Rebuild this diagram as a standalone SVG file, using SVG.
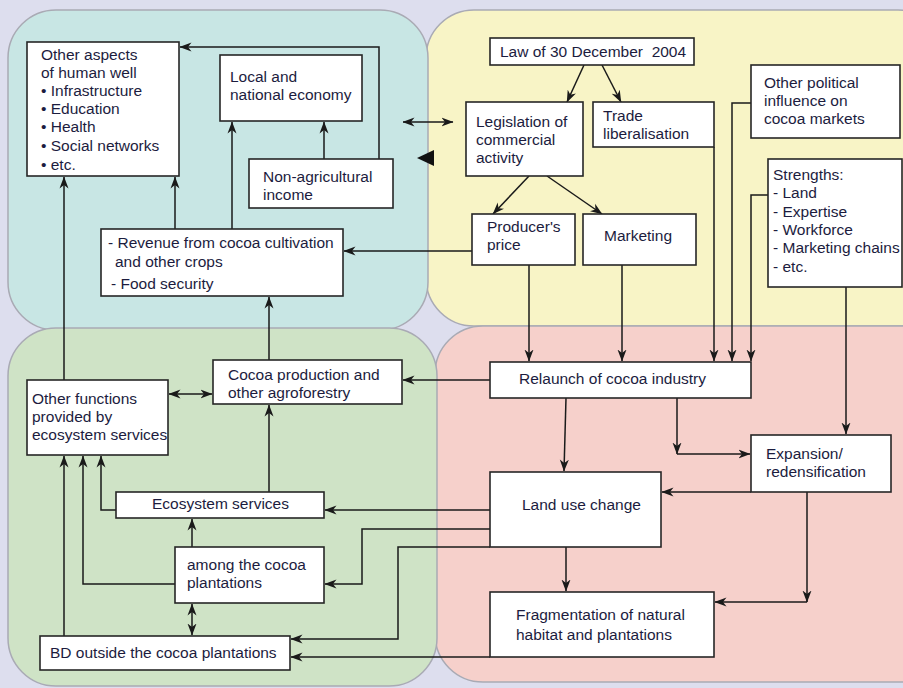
<svg xmlns="http://www.w3.org/2000/svg" width="903" height="688" viewBox="0 0 903 688">
  <defs>
    <marker id="arr" viewBox="0 0 12 10" refX="11.5" refY="5" markerWidth="12" markerHeight="10" markerUnits="userSpaceOnUse" orient="auto-start-reverse">
      <path d="M0,0.5 L12,5 L0,9.5 L3.5,5 Z" fill="#1a1a1a"/>
    </marker>
    <style>
      .panel { stroke: #a9aab4; stroke-width: 1.5; }
      .box { fill: #ffffff; stroke: #262626; stroke-width: 1.6; }
      .lbl { font-family: "Liberation Sans", Arial, sans-serif; font-size: 15.5px; fill: #1c1c3e; white-space: pre; }
      .con { fill: none; stroke: #1a1a1a; stroke-width: 1.5; }
      .arr { marker-end: url(#arr); }
      .both { marker-start: url(#arr); marker-end: url(#arr); }
    </style>
  </defs>

  <!-- page background -->
  <rect x="0" y="0" width="903" height="688" fill="#dddeee"/>

  <!-- the four quadrant panels -->
  <g id="panels">
    <rect class="panel" x="426" y="10" width="520" height="316" rx="48" fill="#f8f4c6"/>
    <rect class="panel" x="8" y="10" width="420" height="320" rx="48" fill="#c8e6e4"/>
    <rect class="panel" x="435" y="326" width="520" height="356" rx="48" fill="#f6d0cb"/>
    <rect class="panel" x="8" y="328" width="429" height="358" rx="48" fill="#cfe3c6"/>
  </g>

  <!-- connectors -->
  <g id="connectors">
    <path class="con arr" d="M379,159 V47 H180"/>
    <path class="con arr" d="M324,159 V122"/>
    <path class="con arr" d="M232,229 V122"/>
    <path class="con arr" d="M175,229 V177"/>
    <path class="con arr" d="M64,380 V177"/>
    <path class="con arr" d="M269,492 V405"/>
    <path class="con arr" d="M269,360 V297"/>
    <path class="con both" d="M403,122 H453"/>
    <polygon points="417,158 434,150 434,166" fill="#111111"/>
    <path class="con arr" d="M473,251 H344"/>
    <path class="con arr" d="M584,65 L567,102"/>
    <path class="con arr" d="M602,65 L621,102"/>
    <path class="con arr" d="M529,176 L493,214"/>
    <path class="con arr" d="M547,176 L602,214"/>
    <path class="con arr" d="M529,265 V361"/>
    <path class="con arr" d="M622,265 V361"/>
    <path class="con arr" d="M714,147 V361"/>
    <path class="con arr" d="M751,103 H732 V361"/>
    <path class="con arr" d="M768,195 H751 V361"/>
    <path class="con arr" d="M846,287 V434"/>
    <path class="con arr" d="M490,380 H403"/>
    <path class="con arr" d="M566,398 L564,471"/>
    <path class="con arr" d="M677,398 V454"/>
    <path class="con arr" d="M677,454 H750"/>
    <path class="con arr" d="M751,492 H662"/>
    <path class="con arr" d="M807,492 V602"/>
    <path class="con arr" d="M807,602 H715"/>
    <path class="con arr" d="M566,547 V591"/>
    <path class="con arr" d="M490,510 H325"/>
    <path class="con arr" d="M490,529 H362 V584 H325"/>
    <path class="con arr" d="M490,547 H398 V639 H291"/>
    <path class="con arr" d="M490,657 H291"/>
    <path class="con both" d="M169,394 H212"/>
    <path class="con arr" d="M116,510 H101 V456"/>
    <path class="con arr" d="M175,584 H83 V456"/>
    <path class="con arr" d="M64,636 V456"/>
    <path class="con arr" d="M192,547 V519"/>
    <path class="con both" d="M192,604 V635"/>
  </g>

  <!-- human well-being quadrant -->
  <g id="other-aspects">
    <rect class="box" x="27" y="42" width="152" height="134"/>
    <text class="lbl" x="41" y="60">Other aspects</text>
    <text class="lbl" x="41" y="78">of human well</text>
    <text class="lbl" x="41" y="96">• Infrastructure</text>
    <text class="lbl" x="41" y="114">• Education</text>
    <text class="lbl" x="41" y="132">• Health</text>
    <text class="lbl" x="41" y="151">• Social networks</text>
    <text class="lbl" x="41" y="170">• etc.</text>
  </g>
  <g id="local-economy">
    <rect class="box" x="220" y="55" width="142" height="66"/>
    <text class="lbl" x="230" y="82">Local and</text>
    <text class="lbl" x="230" y="100">national economy</text>
  </g>
  <g id="non-agri-income">
    <rect class="box" x="249" y="159" width="144" height="49"/>
    <text class="lbl" x="263" y="182">Non-agricultural</text>
    <text class="lbl" x="263" y="200">income</text>
  </g>
  <g id="revenue">
    <rect class="box" x="101" y="229" width="242" height="67"/>
    <text class="lbl" x="108" y="248">- Revenue from cocoa cultivation</text>
    <text class="lbl" x="115" y="267">and other crops</text>
    <text class="lbl" x="111" y="289">- Food security</text>
  </g>

  <!-- policy quadrant -->
  <g id="law">
    <rect class="box" x="490" y="38" width="204" height="27"/>
    <text class="lbl" x="500" y="57" xml:space="preserve">Law of 30 December  2004</text>
  </g>
  <g id="legislation">
    <rect class="box" x="466" y="102" width="117" height="74"/>
    <text class="lbl" x="476" y="127">Legislation of</text>
    <text class="lbl" x="476" y="145">commercial</text>
    <text class="lbl" x="476" y="163">activity</text>
  </g>
  <g id="trade">
    <rect class="box" x="593" y="102" width="121" height="45"/>
    <text class="lbl" x="603" y="121">Trade</text>
    <text class="lbl" x="603" y="139">liberalisation</text>
  </g>
  <g id="other-political">
    <rect class="box" x="751" y="65" width="149" height="73"/>
    <text class="lbl" x="764" y="88">Other political</text>
    <text class="lbl" x="764" y="106">influence on</text>
    <text class="lbl" x="764" y="124">cocoa markets</text>
  </g>
  <g id="strengths">
    <rect class="box" x="768" y="159" width="134" height="128"/>
    <text class="lbl" x="773" y="180">Strengths:</text>
    <text class="lbl" x="773" y="198">- Land</text>
    <text class="lbl" x="773" y="217">- Expertise</text>
    <text class="lbl" x="773" y="235">- Workforce</text>
    <text class="lbl" x="773" y="253">- Marketing chains</text>
    <text class="lbl" x="773" y="272">- etc.</text>
  </g>
  <g id="producer-price">
    <rect class="box" x="472" y="214" width="103" height="51"/>
    <text class="lbl" x="487" y="232">Producer's</text>
    <text class="lbl" x="487" y="250">price</text>
  </g>
  <g id="marketing">
    <rect class="box" x="583" y="214" width="113" height="51"/>
    <text class="lbl" x="604" y="241">Marketing</text>
  </g>

  <!-- land-use quadrant -->
  <g id="relaunch">
    <rect class="box" x="490" y="362" width="261" height="36"/>
    <text class="lbl" x="519" y="384">Relaunch of cocoa industry</text>
  </g>
  <g id="expansion">
    <rect class="box" x="751" y="435" width="140" height="57"/>
    <text class="lbl" x="766" y="459">Expansion/</text>
    <text class="lbl" x="766" y="477">redensification</text>
  </g>
  <g id="land-use">
    <rect class="box" x="490" y="472" width="171" height="75"/>
    <text class="lbl" x="522" y="510">Land use change</text>
  </g>
  <g id="fragmentation">
    <rect class="box" x="490" y="592" width="224" height="65"/>
    <text class="lbl" x="516" y="620">Fragmentation of natural</text>
    <text class="lbl" x="516" y="640">habitat and plantations</text>
  </g>

  <!-- ecosystem quadrant -->
  <g id="cocoa-production">
    <rect class="box" x="213" y="360" width="189" height="44"/>
    <text class="lbl" x="228" y="380">Cocoa production and</text>
    <text class="lbl" x="228" y="398">other agroforestry</text>
  </g>
  <g id="other-functions">
    <rect class="box" x="27" y="380" width="141" height="75"/>
    <text class="lbl" x="32" y="404">Other functions</text>
    <text class="lbl" x="32" y="422">provided by</text>
    <text class="lbl" x="32" y="440">ecosystem services</text>
  </g>
  <g id="ecosystem-services">
    <rect class="box" x="116" y="492" width="208" height="26"/>
    <text class="lbl" x="152" y="509">Ecosystem services</text>
  </g>
  <g id="among-plantations">
    <rect class="box" x="175" y="547" width="149" height="56"/>
    <text class="lbl" x="187" y="570">among the cocoa</text>
    <text class="lbl" x="187" y="588">plantations</text>
  </g>
  <g id="bd-outside">
    <rect class="box" x="40" y="636" width="250" height="34"/>
    <text class="lbl" x="50" y="658">BD outside the cocoa plantations</text>
  </g>
</svg>
